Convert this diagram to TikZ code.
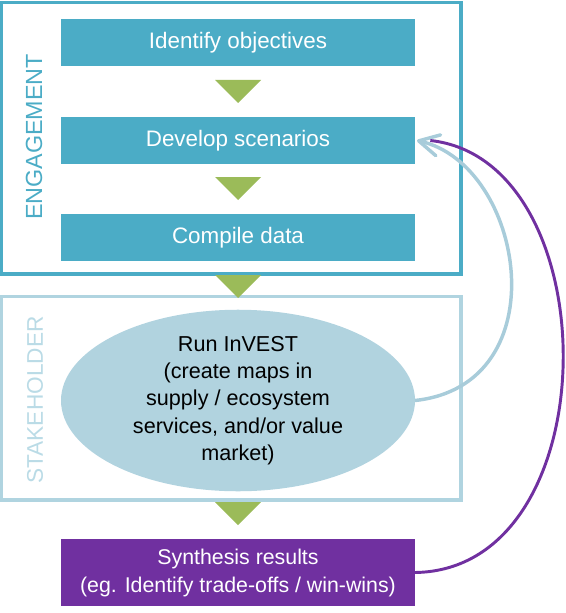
\documentclass[tikz,border=0pt]{standalone}
\usepackage{fontspec}
\setmainfont{Liberation Sans}
\usepackage{xcolor}
\usepackage{tikz}
\usetikzlibrary{shapes.geometric,arrows.meta}

\definecolor{engteal}{RGB}{75,172,198}
\definecolor{stakeblue}{RGB}{176,212,224}
\definecolor{stakelabel}{RGB}{186,219,230}
\definecolor{runblue}{RGB}{177,211,223}
\definecolor{loopblue}{RGB}{168,204,218}
\definecolor{tripgreen}{RGB}{155,187,89}
\definecolor{synpurple}{RGB}{112,48,160}

\begin{document}
\begin{tikzpicture}[x=0.75pt,y=0.75pt,yscale=-1,xscale=1,
    stepbox/.style={fill=engteal,text=white,inner sep=0pt,outer sep=0pt,
        minimum width=265.5pt,minimum height=35.25pt,font=\fontsize{16.8}{20}\selectfont},
    runell/.style={ellipse,fill=runblue,inner sep=0pt,outer sep=0pt,
        minimum width=265.5pt,minimum height=132.75pt,align=center,
        font=\fontsize{16.2}{20.4}\selectfont},
    synbox/.style={fill=synpurple,text=white,inner sep=0pt,outer sep=0pt,
        minimum width=265.5pt,minimum height=50.25pt,align=center,
        font=\fontsize{16}{21}\selectfont},
    sidelabel/.style={rotate=90,inner sep=0pt,font=\fontsize{17.5}{20}\selectfont},
    tri/.style={fill=tripgreen},
    loopline/.style={draw=loopblue,line width=2.6pt}]

    \useasboundingbox (0,0) rectangle (566,613);

    % frames
    \draw [engteal, line width=2.5pt] (1.5,2.5) rectangle (461,274) ;
    \draw [stakeblue, line width=2.5pt] (1.5,296.5) rectangle (461,500) ;

    \node [sidelabel, text=engteal] (eng) at (34,137) {ENGAGEMENT};
    \node [sidelabel, text=stakelabel, font=\fontsize{17}{20}\selectfont] (stake) at (35,400) {STAKEHOLDER};

    % steps
    \node [stepbox] (obj) at (238,42.5) {Identify objectives};
    \node [stepbox] (scen) at (238,140.5) {Develop scenarios};
    \node [stepbox] (data) at (238,237.5) {Compile data};
    \node [runell] (run) at (238,400.5) {Run InVEST\\ (create maps in\\ supply / ecosystem\\ services, and/or value\\ market)};
    \node [synbox] (syn) at (238,572.5) {Synthesis results\\ (eg. Identify trade-offs / win-wins)};

    % green pointers
    \foreach \y in {80,177,275,502}
        \fill [tri] (215,\y) -- (261,\y) -- (238,\y+23) -- cycle ;

    % feedback loops
    \coordinate (tip) at ([xshift=1.5pt]scen.east);
    \draw [loopline, -{Straight Barb[length=15pt,width=16pt,round]}] (run.east) .. controls (560,385) and (525,165) .. (tip) ;
    \draw [synpurple, line width=2.2pt] (syn.east) .. controls (610,570) and (610,160) .. ([xshift=10pt]tip) ;

\end{tikzpicture}
\end{document}
